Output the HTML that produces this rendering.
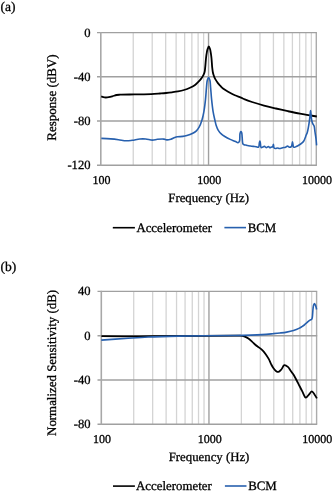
<!DOCTYPE html>
<html><head><meta charset="utf-8"><style>
html,body{margin:0;padding:0;background:#fff;width:334px;height:492px;overflow:hidden}
svg{display:block;will-change:transform} text{text-rendering:geometricPrecision;stroke:#000;stroke-width:0.3px}
</style></head><body>
<svg width="334" height="492" viewBox="0 0 334 492">
<text x="0.6" y="11.4" style="font-family:'Liberation Serif',serif;font-size:13.5px">(a)</text>
<line x1="133.24" y1="32.6" x2="133.24" y2="165.2" stroke="#d4d4d4" stroke-width="1.3"/>
<line x1="152.21" y1="32.6" x2="152.21" y2="165.2" stroke="#d4d4d4" stroke-width="1.3"/>
<line x1="165.67" y1="32.6" x2="165.67" y2="165.2" stroke="#d4d4d4" stroke-width="1.3"/>
<line x1="176.11" y1="32.6" x2="176.11" y2="165.2" stroke="#d4d4d4" stroke-width="1.3"/>
<line x1="184.65" y1="32.6" x2="184.65" y2="165.2" stroke="#d4d4d4" stroke-width="1.3"/>
<line x1="191.86" y1="32.6" x2="191.86" y2="165.2" stroke="#d4d4d4" stroke-width="1.3"/>
<line x1="198.11" y1="32.6" x2="198.11" y2="165.2" stroke="#d4d4d4" stroke-width="1.3"/>
<line x1="203.62" y1="32.6" x2="203.62" y2="165.2" stroke="#d4d4d4" stroke-width="1.3"/>
<line x1="240.99" y1="32.6" x2="240.99" y2="165.2" stroke="#d4d4d4" stroke-width="1.3"/>
<line x1="259.96" y1="32.6" x2="259.96" y2="165.2" stroke="#d4d4d4" stroke-width="1.3"/>
<line x1="273.42" y1="32.6" x2="273.42" y2="165.2" stroke="#d4d4d4" stroke-width="1.3"/>
<line x1="283.86" y1="32.6" x2="283.86" y2="165.2" stroke="#d4d4d4" stroke-width="1.3"/>
<line x1="292.40" y1="32.6" x2="292.40" y2="165.2" stroke="#d4d4d4" stroke-width="1.3"/>
<line x1="299.61" y1="32.6" x2="299.61" y2="165.2" stroke="#d4d4d4" stroke-width="1.3"/>
<line x1="305.86" y1="32.6" x2="305.86" y2="165.2" stroke="#d4d4d4" stroke-width="1.3"/>
<line x1="311.37" y1="32.6" x2="311.37" y2="165.2" stroke="#d4d4d4" stroke-width="1.3"/>
<line x1="208.55" y1="32.6" x2="208.55" y2="165.2" stroke="#a0a0a0" stroke-width="1.4"/>
<line x1="316.30" y1="32.6" x2="316.30" y2="165.2" stroke="#acacac" stroke-width="1.4"/>
<line x1="97.00" y1="32.60" x2="316.90" y2="32.60" stroke="#a0a0a0" stroke-width="1.4"/>
<text x="90.5" y="36.60" text-anchor="end" style="font-family:'Liberation Serif',serif;font-size:12.6px">0</text>
<line x1="97.00" y1="76.80" x2="316.90" y2="76.80" stroke="#a0a0a0" stroke-width="1.4"/>
<text x="90.5" y="80.80" text-anchor="end" style="font-family:'Liberation Serif',serif;font-size:12.6px">-40</text>
<line x1="97.00" y1="121.00" x2="316.90" y2="121.00" stroke="#a0a0a0" stroke-width="1.4"/>
<text x="90.5" y="125.00" text-anchor="end" style="font-family:'Liberation Serif',serif;font-size:12.6px">-80</text>
<line x1="97.00" y1="165.20" x2="316.90" y2="165.20" stroke="#a0a0a0" stroke-width="1.4"/>
<text x="90.5" y="169.20" text-anchor="end" style="font-family:'Liberation Serif',serif;font-size:12.6px">-120</text>
<line x1="100.80" y1="32.0" x2="100.80" y2="165.79999999999998" stroke="#a8a8a8" stroke-width="1.6"/>
<text x="101.50" y="184.20" text-anchor="middle" style="font-family:'Liberation Serif',serif;font-size:12px">100</text>
<text x="209.25" y="184.20" text-anchor="middle" style="font-family:'Liberation Serif',serif;font-size:12px">1000</text>
<text x="317.00" y="184.20" text-anchor="middle" style="font-family:'Liberation Serif',serif;font-size:12px">10000</text>
<text x="208.65" y="202.10" text-anchor="middle" style="font-family:'Liberation Serif',serif;font-size:12.8px">Frequency (Hz)</text>
<text transform="translate(55.6,97.5) rotate(-90)" text-anchor="middle" style="font-family:'Liberation Serif',serif;font-size:13px">Response (dBV)</text>
<path d="M101.20,96.40 C101.20,96.40 102.64,97.02 103.40,97.20 C104.17,97.39 104.95,97.49 105.80,97.50 C106.74,97.51 107.76,97.38 108.80,97.20 C109.95,97.00 111.16,96.65 112.40,96.30 C113.75,95.92 115.26,95.26 116.60,95.00 C117.78,94.77 118.47,94.78 120.00,94.70 C123.18,94.53 129.66,94.50 134.70,94.40 C140.04,94.30 146.56,94.30 151.20,94.10 C154.59,93.95 157.35,93.70 160.00,93.50 C162.19,93.33 164.00,93.20 166.00,93.00 C168.00,92.80 170.00,92.57 172.00,92.30 C174.00,92.03 176.01,91.78 178.00,91.40 C180.01,91.02 182.02,90.59 184.00,90.00 C186.02,89.40 188.15,88.64 190.00,87.80 C191.69,87.03 193.29,86.21 194.70,85.20 C196.04,84.23 197.19,83.03 198.30,81.90 C199.35,80.83 200.34,79.78 201.20,78.60 C202.07,77.41 202.91,75.99 203.50,74.80 C203.99,73.82 204.33,73.07 204.60,72.00 C204.94,70.67 205.00,69.19 205.20,67.40 C205.47,64.88 205.73,60.82 206.00,58.30 C206.20,56.51 206.35,55.21 206.60,53.70 C206.85,52.21 207.08,50.59 207.50,49.30 C207.85,48.21 208.37,46.40 208.80,46.40 C209.23,46.40 209.76,48.21 210.10,49.30 C210.50,50.59 210.67,52.21 210.90,53.70 C211.14,55.21 211.31,56.50 211.50,58.30 C211.76,60.82 211.94,64.88 212.20,67.40 C212.39,69.20 212.54,70.68 212.80,72.00 C213.00,73.03 213.17,73.70 213.50,74.70 C213.93,76.02 214.56,77.79 215.30,79.20 C216.03,80.59 217.02,81.96 217.90,83.10 C218.66,84.08 219.38,84.83 220.20,85.70 C221.07,86.63 221.82,87.57 223.00,88.50 C224.57,89.74 226.99,91.05 229.00,92.20 C230.96,93.32 232.90,94.39 234.90,95.30 C236.87,96.19 239.13,96.85 240.90,97.60 C242.35,98.21 243.29,98.78 244.80,99.40 C246.82,100.23 249.28,101.10 252.00,102.00 C255.48,103.15 259.99,104.51 264.00,105.60 C267.96,106.68 271.92,107.57 275.90,108.50 C279.89,109.43 283.90,110.33 287.90,111.20 C291.90,112.07 296.12,112.99 299.90,113.70 C303.27,114.33 306.52,114.81 309.50,115.30 C312.10,115.73 316.80,116.50 316.80,116.50" fill="none" stroke="#000000" stroke-width="1.8" stroke-linejoin="round"/>
<path d="M101.30,138.40 C101.30,138.40 107.72,138.67 110.70,138.90 C113.42,139.11 115.91,139.38 118.50,139.70 C121.08,140.02 123.80,140.73 126.20,140.80 C128.29,140.86 130.00,140.56 132.10,140.30 C134.52,140.00 137.48,139.20 139.90,139.00 C141.97,138.83 143.70,138.84 145.70,139.00 C147.88,139.18 150.42,140.10 152.50,140.10 C154.27,140.10 155.64,139.47 157.40,139.30 C159.43,139.10 162.30,138.88 164.00,139.10 C165.11,139.24 165.70,139.83 166.70,139.90 C167.92,139.99 169.47,139.69 170.80,139.30 C172.17,138.90 173.58,137.93 174.80,137.50 C175.77,137.16 176.44,136.98 177.50,136.80 C178.98,136.56 181.24,136.65 182.90,136.40 C184.34,136.19 185.48,135.92 186.90,135.50 C188.58,135.00 190.67,134.33 192.30,133.50 C193.81,132.74 195.25,131.88 196.40,130.80 C197.50,129.77 198.28,128.66 199.10,127.20 C200.16,125.31 201.12,122.68 201.90,120.20 C202.75,117.51 203.33,114.73 203.90,111.60 C204.57,107.90 205.07,103.47 205.50,99.40 C205.93,95.34 206.16,90.70 206.50,87.20 C206.76,84.54 206.78,81.93 207.30,80.20 C207.63,79.09 208.17,77.60 208.60,77.60 C209.03,77.60 209.58,79.09 209.90,80.20 C210.40,81.93 210.36,84.54 210.60,87.20 C210.92,90.70 211.18,95.34 211.60,99.40 C212.02,103.47 212.49,107.90 213.10,111.60 C213.62,114.73 214.33,117.68 214.90,120.20 C215.35,122.18 215.62,123.80 216.20,125.50 C216.76,127.16 217.40,128.84 218.30,130.30 C219.18,131.73 220.35,133.13 221.50,134.20 C222.53,135.15 223.54,135.73 224.80,136.50 C226.36,137.46 228.38,138.54 230.20,139.40 C231.98,140.24 234.19,140.95 235.60,141.60 C236.54,142.04 237.24,142.89 237.90,142.80 C238.49,142.72 239.03,142.16 239.40,141.40 C240.11,139.93 239.61,135.44 240.00,133.70 C240.21,132.76 240.46,131.68 240.80,131.60 C241.03,131.54 241.39,131.90 241.60,132.30 C242.07,133.21 241.99,135.76 242.20,137.60 C242.42,139.59 242.29,142.67 242.90,143.80 C243.21,144.37 243.65,144.60 244.10,144.80 C244.55,145.00 245.07,144.90 245.60,145.00 C246.20,145.12 246.80,145.35 247.50,145.50 C248.36,145.69 249.44,145.85 250.40,146.00 C251.34,146.15 252.26,146.28 253.20,146.40 C254.16,146.52 255.18,146.56 256.10,146.70 C256.94,146.83 257.94,147.57 258.50,147.20 C259.27,146.69 259.11,143.73 259.40,142.60 C259.57,141.92 259.75,140.99 259.90,141.00 C260.08,141.01 260.23,142.41 260.40,143.30 C260.63,144.51 260.47,147.23 261.10,147.60 C261.50,147.84 262.23,147.20 262.80,147.00 C263.37,146.80 263.95,146.32 264.50,146.40 C265.09,146.48 265.58,147.55 266.20,147.60 C266.87,147.65 267.77,146.42 268.40,146.50 C268.94,146.57 269.27,147.62 269.80,147.70 C270.36,147.79 271.16,147.04 271.70,146.90 C272.08,146.80 272.44,147.02 272.70,146.80 C273.13,146.44 273.18,144.19 273.40,144.20 C273.66,144.21 273.55,147.35 274.10,148.00 C274.44,148.40 274.99,148.47 275.50,148.50 C276.10,148.53 276.84,148.00 277.50,148.00 C278.14,148.00 278.73,148.48 279.40,148.50 C280.15,148.52 281.05,148.18 281.80,148.00 C282.47,147.84 283.06,147.62 283.70,147.50 C284.33,147.38 284.99,147.51 285.60,147.30 C286.26,147.07 286.87,146.10 287.50,146.10 C288.13,146.10 288.75,147.23 289.40,147.30 C290.02,147.37 290.88,147.01 291.30,146.60 C291.68,146.22 291.72,145.63 291.90,145.00 C292.14,144.12 292.31,141.80 292.50,141.80 C292.71,141.80 292.90,144.54 293.10,145.50 C293.23,146.12 293.20,146.70 293.50,147.00 C293.77,147.26 294.30,147.35 294.70,147.30 C295.14,147.25 295.49,146.87 296.00,146.60 C296.74,146.21 297.81,145.73 298.70,145.20 C299.64,144.64 300.64,144.01 301.50,143.30 C302.34,142.61 303.19,141.90 303.80,141.00 C304.43,140.07 304.81,138.79 305.20,137.80 C305.52,136.98 305.69,136.28 306.00,135.50 C306.32,134.68 306.78,133.93 307.10,133.00 C307.47,131.90 307.71,130.67 308.00,129.30 C308.35,127.61 308.69,125.57 309.00,123.60 C309.33,121.48 309.63,119.18 309.90,117.00 C310.16,114.85 310.39,110.60 310.60,110.60 C310.78,110.60 310.91,113.84 311.10,115.50 C311.30,117.23 311.47,119.33 311.80,120.80 C312.05,121.89 312.31,122.72 312.70,123.60 C313.08,124.45 313.74,124.98 314.10,126.00 C314.63,127.51 314.69,129.95 315.00,132.00 C315.32,134.15 315.73,136.38 316.00,138.60 C316.27,140.85 316.60,145.40 316.60,145.40" fill="none" stroke="#2760ae" stroke-width="1.6" stroke-linejoin="round"/>
<line x1="112.8" y1="227.7" x2="134.9" y2="227.7" stroke="#000000" stroke-width="1.6"/>
<text x="136.4" y="231.5" style="font-family:'Liberation Serif',serif;font-size:12.85px">Accelerometer</text>
<line x1="224.4" y1="227.6" x2="246" y2="227.6" stroke="#2760ae" stroke-width="1.6"/>
<text x="247.7" y="231.5" style="font-family:'Liberation Serif',serif;font-size:12.85px">BCM</text>
<text x="0.6" y="271.3" style="font-family:'Liberation Serif',serif;font-size:13.5px">(b)</text>
<line x1="133.71" y1="291.4" x2="133.71" y2="424.3" stroke="#d4d4d4" stroke-width="1.3"/>
<line x1="152.66" y1="291.4" x2="152.66" y2="424.3" stroke="#d4d4d4" stroke-width="1.3"/>
<line x1="166.11" y1="291.4" x2="166.11" y2="424.3" stroke="#d4d4d4" stroke-width="1.3"/>
<line x1="176.54" y1="291.4" x2="176.54" y2="424.3" stroke="#d4d4d4" stroke-width="1.3"/>
<line x1="185.07" y1="291.4" x2="185.07" y2="424.3" stroke="#d4d4d4" stroke-width="1.3"/>
<line x1="192.27" y1="291.4" x2="192.27" y2="424.3" stroke="#d4d4d4" stroke-width="1.3"/>
<line x1="198.52" y1="291.4" x2="198.52" y2="424.3" stroke="#d4d4d4" stroke-width="1.3"/>
<line x1="204.02" y1="291.4" x2="204.02" y2="424.3" stroke="#d4d4d4" stroke-width="1.3"/>
<line x1="241.36" y1="291.4" x2="241.36" y2="424.3" stroke="#d4d4d4" stroke-width="1.3"/>
<line x1="260.31" y1="291.4" x2="260.31" y2="424.3" stroke="#d4d4d4" stroke-width="1.3"/>
<line x1="273.76" y1="291.4" x2="273.76" y2="424.3" stroke="#d4d4d4" stroke-width="1.3"/>
<line x1="284.19" y1="291.4" x2="284.19" y2="424.3" stroke="#d4d4d4" stroke-width="1.3"/>
<line x1="292.72" y1="291.4" x2="292.72" y2="424.3" stroke="#d4d4d4" stroke-width="1.3"/>
<line x1="299.92" y1="291.4" x2="299.92" y2="424.3" stroke="#d4d4d4" stroke-width="1.3"/>
<line x1="306.17" y1="291.4" x2="306.17" y2="424.3" stroke="#d4d4d4" stroke-width="1.3"/>
<line x1="311.67" y1="291.4" x2="311.67" y2="424.3" stroke="#d4d4d4" stroke-width="1.3"/>
<line x1="208.95" y1="291.4" x2="208.95" y2="424.3" stroke="#a0a0a0" stroke-width="1.4"/>
<line x1="316.60" y1="291.4" x2="316.60" y2="424.3" stroke="#acacac" stroke-width="1.4"/>
<line x1="97.50" y1="291.40" x2="317.20" y2="291.40" stroke="#a0a0a0" stroke-width="1.4"/>
<text x="90.5" y="295.40" text-anchor="end" style="font-family:'Liberation Serif',serif;font-size:12.6px">40</text>
<line x1="97.50" y1="335.70" x2="317.20" y2="335.70" stroke="#a0a0a0" stroke-width="1.4"/>
<text x="90.5" y="339.70" text-anchor="end" style="font-family:'Liberation Serif',serif;font-size:12.6px">0</text>
<line x1="97.50" y1="380.00" x2="317.20" y2="380.00" stroke="#a0a0a0" stroke-width="1.4"/>
<text x="90.5" y="384.00" text-anchor="end" style="font-family:'Liberation Serif',serif;font-size:12.6px">-40</text>
<line x1="97.50" y1="424.30" x2="317.20" y2="424.30" stroke="#a0a0a0" stroke-width="1.4"/>
<text x="90.5" y="428.30" text-anchor="end" style="font-family:'Liberation Serif',serif;font-size:12.6px">-80</text>
<line x1="101.30" y1="290.79999999999995" x2="101.30" y2="424.90000000000003" stroke="#a8a8a8" stroke-width="1.6"/>
<text x="102.00" y="443.30" text-anchor="middle" style="font-family:'Liberation Serif',serif;font-size:12px">100</text>
<text x="209.65" y="443.30" text-anchor="middle" style="font-family:'Liberation Serif',serif;font-size:12px">1000</text>
<text x="317.30" y="443.30" text-anchor="middle" style="font-family:'Liberation Serif',serif;font-size:12px">10000</text>
<text x="209.05" y="461.20" text-anchor="middle" style="font-family:'Liberation Serif',serif;font-size:12.8px">Frequency (Hz)</text>
<text transform="translate(55.6,362.9) rotate(-90)" text-anchor="middle" style="font-family:'Liberation Serif',serif;font-size:12.9px">Normalized Sensitivity (dB)</text>
<path d="M101.40,336.20 C101.40,336.20 127.18,336.33 140.00,336.30 C152.72,336.27 164.05,336.09 178.00,336.00 C195.08,335.89 226.32,335.81 235.00,335.70 C237.57,335.67 238.36,335.45 240.00,335.60 C241.63,335.75 243.35,336.06 244.80,336.60 C246.13,337.09 247.24,337.80 248.40,338.60 C249.64,339.45 250.82,340.55 252.00,341.60 C253.22,342.68 254.37,343.98 255.60,345.00 C256.77,345.97 258.02,346.68 259.20,347.60 C260.42,348.54 261.71,349.50 262.80,350.60 C263.88,351.70 264.76,352.89 265.70,354.20 C266.73,355.64 267.80,357.26 268.70,358.90 C269.61,360.56 270.26,362.48 271.10,364.10 C271.87,365.59 272.63,367.11 273.50,368.30 C274.25,369.32 275.02,370.29 275.90,370.90 C276.67,371.43 277.57,372.03 278.40,371.90 C279.38,371.75 280.39,370.49 281.30,369.50 C282.38,368.33 283.10,365.52 284.30,365.20 C285.35,364.92 286.88,366.06 287.90,366.90 C288.97,367.79 289.71,369.41 290.50,370.50 C291.16,371.41 291.69,372.12 292.30,373.00 C292.96,373.95 293.56,374.75 294.30,376.00 C295.43,377.90 296.89,380.88 298.20,383.40 C299.56,386.01 300.96,388.92 302.30,391.40 C303.49,393.61 304.54,397.42 305.80,397.60 C306.78,397.74 307.89,395.64 308.90,394.60 C309.93,393.54 310.95,391.28 311.90,391.30 C312.81,391.32 313.69,393.27 314.50,394.40 C315.37,395.62 316.90,398.40 316.90,398.40" fill="none" stroke="#000000" stroke-width="1.8" stroke-linejoin="round"/>
<path d="M101.30,340.10 C101.30,340.10 117.16,339.02 125.00,338.50 C132.72,337.99 139.82,337.39 148.00,337.00 C157.33,336.56 166.41,336.33 178.00,336.10 C193.98,335.78 219.51,335.84 235.00,335.50 C245.66,335.27 254.99,335.00 262.00,334.60 C266.48,334.34 269.75,334.00 273.00,333.70 C275.60,333.46 277.69,333.27 280.00,333.00 C282.26,332.74 284.47,332.51 286.70,332.10 C288.97,331.68 291.39,331.16 293.50,330.50 C295.43,329.90 297.37,329.14 298.90,328.40 C300.10,327.82 301.05,327.20 302.00,326.60 C302.84,326.07 303.53,325.61 304.30,325.00 C305.16,324.32 306.17,323.36 306.90,322.70 C307.44,322.21 307.80,321.82 308.30,321.40 C308.83,320.95 309.42,320.47 310.00,320.10 C310.55,319.75 311.32,319.64 311.70,319.20 C312.07,318.77 312.13,318.30 312.30,317.50 C312.67,315.76 312.71,311.33 313.00,309.00 C313.20,307.35 313.32,305.75 313.70,304.80 C313.92,304.25 314.22,303.58 314.50,303.60 C314.88,303.62 315.37,305.03 315.70,305.90 C316.10,306.95 316.60,309.50 316.60,309.50" fill="none" stroke="#2760ae" stroke-width="1.6" stroke-linejoin="round"/>
<line x1="113" y1="486.1" x2="134.9" y2="486.1" stroke="#000000" stroke-width="1.6"/>
<text x="136.1" y="489.6" style="font-family:'Liberation Serif',serif;font-size:12.85px">Accelerometer</text>
<line x1="224.9" y1="486" x2="246.5" y2="486" stroke="#2760ae" stroke-width="1.6"/>
<text x="248.2" y="489.6" style="font-family:'Liberation Serif',serif;font-size:12.85px">BCM</text>
</svg>
</body></html>
